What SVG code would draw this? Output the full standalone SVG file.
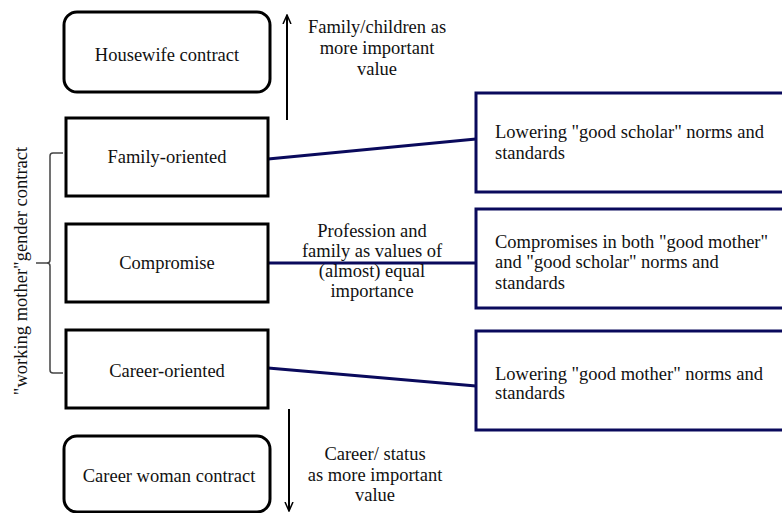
<svg xmlns="http://www.w3.org/2000/svg" width="782" height="513" viewBox="0 0 782 513">
<style>
text{font-family:"Liberation Serif","Times New Roman",serif;font-size:18.5px;fill:#111}
.c{text-anchor:middle}
.bk{fill:#fff;stroke:#000;stroke-width:3}
.nv{fill:#fff;stroke:#0a0a5c;stroke-width:3}
.ln{fill:none;stroke:#0a0a5c;stroke-width:3}
.ar{fill:none;stroke:#000;stroke-width:2}
.br{fill:none;stroke:#444;stroke-width:1.5}
</style>
<defs>
<marker id="ah" viewBox="0 0 10 10" refX="9" refY="5" markerWidth="10" markerHeight="10" markerUnits="userSpaceOnUse" orient="auto">
<path d="M0,1 L9,5 L0,9" fill="none" stroke="#000" stroke-width="1.5"/>
</marker>
</defs>
<g id="connectors">
<line class="ln" x1="268" y1="159" x2="476" y2="139"/>
<line class="ln" x1="268" y1="263" x2="476" y2="263"/>
<line class="ln" x1="268" y1="368" x2="476" y2="386"/>
<line class="ar" x1="287" y1="120" x2="287" y2="15" marker-end="url(#ah)"/>
<line class="ar" x1="289" y1="409" x2="289" y2="511" marker-end="url(#ah)"/>
<path class="br" d="M63,153 H53 Q50,153 50,156 V260 Q50,263 47,263 H36 M47,263 Q50,263 50,266 V370 Q50,373 53,373 H63"/>
</g>
<g id="housewife"><rect class="bk" x="64" y="12" width="206" height="80" rx="13"/><text class="c" x="167" y="61">Housewife contract</text></g>
<g id="family"><rect class="bk" x="66" y="118" width="202" height="78"/><text class="c" x="167" y="163">Family-oriented</text></g>
<g id="compromise"><rect class="bk" x="66" y="224" width="202" height="78"/><text class="c" x="167" y="269">Compromise</text></g>
<g id="career"><rect class="bk" x="66" y="330" width="202" height="78"/><text class="c" x="167" y="377">Career-oriented</text></g>
<g id="careerwoman"><rect class="bk" x="64" y="436" width="206" height="76" rx="13"/><text class="c" x="169" y="482">Career woman contract</text></g>
<g id="lbl-family"><text class="c"><tspan x="377" y="33">Family/children as</tspan><tspan x="377" y="54">more important</tspan><tspan x="377" y="75">value</tspan></text></g>
<g id="lbl-equal"><text class="c"><tspan x="372" y="237">Profession and</tspan><tspan x="372" y="257">family as values of</tspan><tspan x="372" y="277">(almost) equal</tspan><tspan x="372" y="297">importance</tspan></text></g>
<g id="lbl-career"><text class="c"><tspan x="375" y="460">Career/ status</tspan><tspan x="375" y="481">as more important</tspan><tspan x="375" y="501">value</tspan></text></g>
<g id="lbl-contract"><text class="c" transform="translate(27,271) rotate(-90)">"working mother"gender contract</text></g>
<g id="scholar"><rect class="nv" x="476" y="93" width="320" height="99"/><text><tspan x="495" y="138">Lowering "good scholar" norms and</tspan><tspan x="495" y="159">standards</tspan></text></g>
<g id="both"><rect class="nv" x="476" y="209" width="320" height="99"/><text><tspan x="495" y="248">Compromises in both "good mother"</tspan><tspan x="495" y="268">and "good scholar" norms and</tspan><tspan x="495" y="289">standards</tspan></text></g>
<g id="mother"><rect class="nv" x="476" y="331" width="320" height="99"/><text><tspan x="495" y="380">Lowering "good mother" norms and</tspan><tspan x="495" y="399">standards</tspan></text></g>
</svg>
